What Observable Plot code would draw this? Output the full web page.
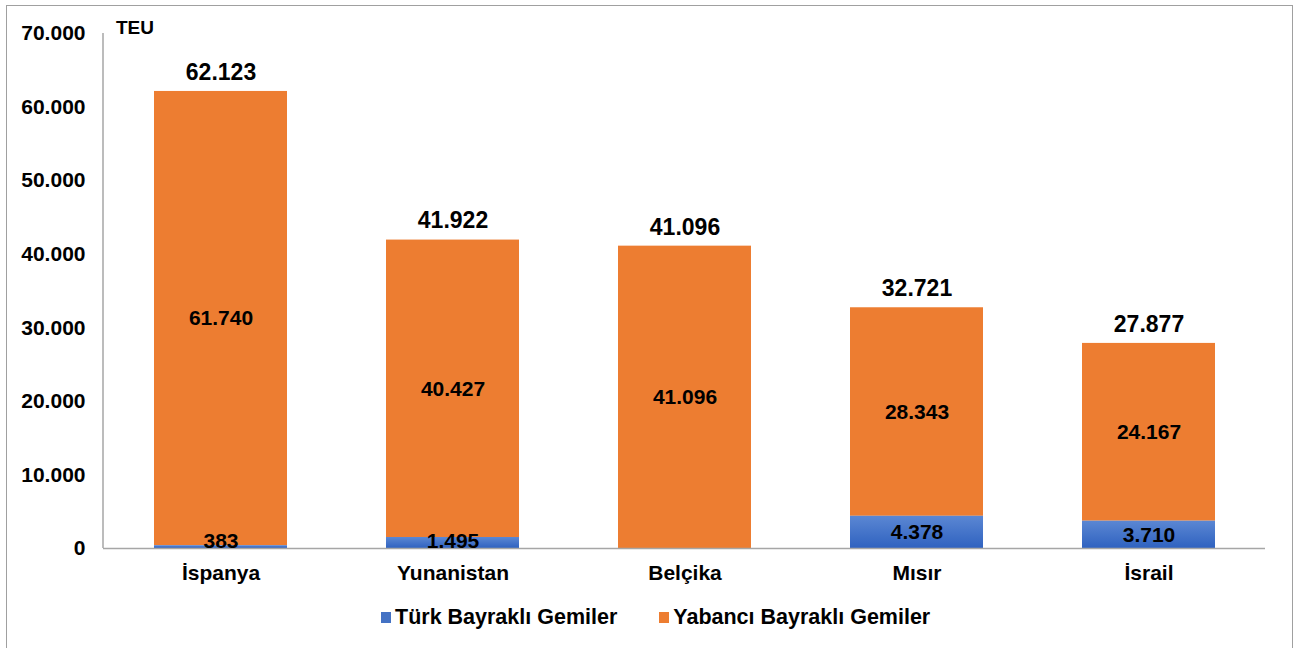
<!DOCTYPE html>
<html><head><meta charset="utf-8">
<script src="https://cdn.jsdelivr.net/npm/d3@7"></script>
<script src="https://cdn.jsdelivr.net/npm/@observablehq/plot@0.6"></script>
<style>
html,body{margin:0;padding:0;background:#fff;}
#wrap{position:absolute;left:0;top:0;width:1299px;height:648px;font-family:"Liberation Sans",Arial,sans-serif;font-weight:bold;color:#000;overflow:hidden;}
#frame{position:absolute;left:6px;top:5px;width:1287px;height:650px;border:1px solid #A0A0A0;box-sizing:border-box;}
#chart{position:absolute;left:0;top:0;}
#teu{position:absolute;left:116px;top:17px;font-size:19px;line-height:22px;}
#legend{position:absolute;left:381px;top:605px;display:flex;font-size:21.5px;line-height:24px;}
.li{display:flex;align-items:center;}
.sw{width:10px;height:11px;margin-right:4px;}
</style></head><body>
<div id="wrap">
<div id="frame"></div>
<div id="chart"></div>
<div id="teu">TEU</div>
<div id="legend"></div>
</div>
<script>
const categories = ["İspanya","Yunanistan","Belçika","Mısır","İsrail"];
const turk = [383, 1495, 0, 4378, 3710];
const yabanci = [61740, 40427, 41096, 28343, 24167];
const seriesNames = ["Türk Bayraklı Gemiler","Yabancı Bayraklı Gemiler"];
const seriesColors = ["#4472C4","#ED7D31"];
const yTicks = [0,10000,20000,30000,40000,50000,60000,70000];

const fmt = d3.formatLocale({decimal:",",thousands:".",grouping:[3],currency:["",""]}).format(",");

const rows = [];
categories.forEach((c,i)=>{
  rows.push({cat:c, series:seriesNames[0], value:turk[i], y1:0, y2:turk[i]});
  rows.push({cat:c, series:seriesNames[1], value:yabanci[i], y1:turk[i], y2:turk[i]+yabanci[i]});
});
const totals = categories.map((c,i)=>({cat:c, total:turk[i]+yabanci[i]}));
const blueRows = rows.filter(r=>r.series===seriesNames[0] && r.value>0);
const orangeRows = rows.filter(r=>r.series===seriesNames[1]);

const plot = Plot.plot({
  width:1299, height:595,
  marginTop:33, marginBottom:47, marginLeft:103, marginRight:34,
  style:{fontFamily:'"Liberation Sans",Arial,sans-serif', fontWeight:"bold", fontSize:"21px", color:"#000", background:"transparent"},
  x:{domain:categories, paddingInner:0.427, paddingOuter:0.2135, label:null, tickSize:0, tickPadding:17},
  y:{domain:[0,70000], ticks:yTicks, tickFormat:fmt, label:null, tickSize:0, tickPadding:18},
  marks:[
    Plot.barY(orangeRows,{x:"cat", y1:"y1", y2:"y2", fill:seriesColors[1]}),
    Plot.barY(blueRows,{x:"cat", y1:"y1", y2:"y2", fill:"url(#blueGrad)", style:"filter:drop-shadow(0px 1px 3px rgba(0,0,0,0.45))"}),
    Plot.ruleY([0],{stroke:"#A6A6A6", strokeWidth:1.5}),
    Plot.text(orangeRows,{x:"cat", y:d=>(d.y1+d.y2)/2, text:d=>fmt(d.value), fontSize:21, fontWeight:"bold", fill:"#000"}),
    Plot.text(blueRows,{x:"cat", y:d=>Math.max((d.y1+d.y2)/2, 1000), text:d=>fmt(d.value), fontSize:21, fontWeight:"bold", fill:"#000"}),
    Plot.text(totals,{x:"cat", y:"total", text:d=>fmt(d.total), dy:-19, fontSize:23, fontWeight:"bold", fill:"#000"})
  ]
});
const svg = d3.select(plot);
const defs = svg.insert("defs",":first-child");
const g = defs.append("linearGradient").attr("id","blueGrad").attr("x1",0).attr("y1",0).attr("x2",0).attr("y2",1);
g.append("stop").attr("offset","0%").attr("stop-color","#5B87D3");
g.append("stop").attr("offset","100%").attr("stop-color","#2F62C0");
// vertical axis line from the library's own scales
const xr = plot.scale("x").range, yr = plot.scale("y").range;
svg.append("line").attr("x1",xr[0]).attr("x2",xr[0]).attr("y1",yr[0]).attr("y2",yr[1])
  .attr("stroke","#A6A6A6").attr("stroke-width",1.5);
document.getElementById("chart").appendChild(plot);

const legend = document.getElementById("legend");
seriesNames.forEach((n,i)=>{
  const li = document.createElement("div"); li.className="li";
  if(i===1) li.style.marginLeft="42px";
  const sw = document.createElement("div"); sw.className="sw"; sw.style.background=seriesColors[i];
  const t = document.createElement("span"); t.textContent=n;
  li.appendChild(sw); li.appendChild(t); legend.appendChild(li);
});
</script>
</body></html>
